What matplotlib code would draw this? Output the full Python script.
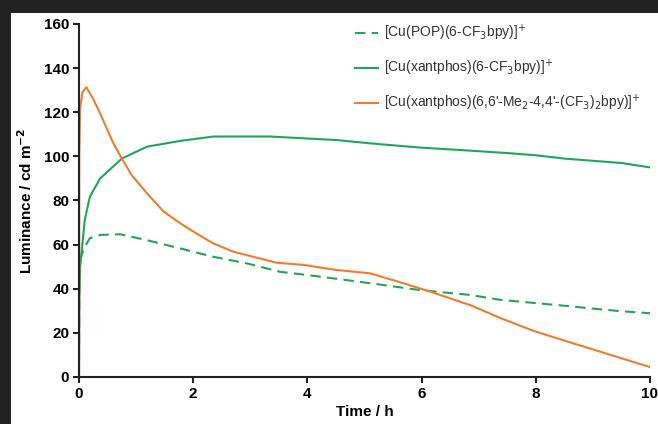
import matplotlib
matplotlib.use("Agg")
import matplotlib.pyplot as plt
from matplotlib.patches import Rectangle

plt.rcParams['font.family'] = ['Liberation Sans', 'DejaVu Sans']

# Data
t_pop = [0, 0.005, 0.02, 0.08, 0.19, 0.37, 0.72, 1.19, 1.77, 2.35, 2.94, 3.52, 4.22, 5.1, 5.97, 6.85, 7.37, 8.0, 8.5, 9.0, 9.5, 10.0]
y_pop = [0, 40, 53, 58, 62.9, 64.4, 64.7, 62, 58.3, 54.5, 51.5, 47.7, 45.5, 42.5, 39.4, 37.2, 35, 33.5, 32.3, 31, 29.8, 28.9]

t_xan = [0, 0.005, 0.02, 0.1, 0.19, 0.37, 0.75, 1.19, 1.77, 2.35, 2.9, 3.34, 3.93, 4.51, 5.1, 5.97, 6.85, 7.5, 8.0, 8.5, 9.0, 9.5, 10.0]
y_xan = [0, 35, 50, 71, 81.7, 90, 99, 104.4, 107, 109, 109, 109, 108.2, 107.4, 105.9, 104, 102.6, 101.5, 100.5, 99, 98, 97, 95]

t_me = [0, 0.005, 0.02, 0.06, 0.13, 0.25, 0.37, 0.6, 0.75, 0.92, 1.19, 1.48, 1.77, 2.06, 2.35, 2.7, 3.05, 3.46, 3.93, 4.51, 5.1, 5.68, 6.15, 6.85, 7.4, 7.95, 8.5, 9.0, 9.5, 10.0]
y_me = [0, 100, 122, 129, 131.3, 126, 119.5, 106, 99, 91.6, 83.3, 75, 69.7, 65, 60.6, 56.8, 54.5, 51.8, 50.8, 48.5, 47, 42.5, 38.7, 32.6, 26.5, 21, 16.5, 12.5, 8.5, 4.5]

labels = [r'[Cu(POP)(6-CF$_3$bpy)]$^{+}$',
          r'[Cu(xantphos)(6-CF$_3$bpy)]$^{+}$',
          r"[Cu(xantphos)(6,6'-Me$_2$-4,4'-(CF$_3$)$_2$bpy)]$^{+}$"]

green = '#22a55a'
orange = '#ee7d31'

fig = plt.figure(figsize=(6.58, 4.24), dpi=100, facecolor='white')
# dark border on top and left
fig.patches.append(Rectangle((0, 1 - 13/424), 1, 13/424, transform=fig.transFigure,
                             facecolor='#222222', edgecolor='none', zorder=-10))
fig.patches.append(Rectangle((0, 0), 11/658, 1, transform=fig.transFigure,
                             facecolor='#222222', edgecolor='none', zorder=-10))
ax = fig.add_axes([79/658, 47/424, (650-79)/658, (377-24)/424])
ax.set_facecolor('white')

ax.plot(t_pop, y_pop, color=green, lw=1.5, ls=(0, (5, 3)), label=labels[0])
ax.plot(t_xan, y_xan, color=green, lw=1.5, label=labels[1])
ax.plot(t_me, y_me, color=orange, lw=1.5, label=labels[2])

ax.set_xlim(0, 10)
ax.set_ylim(0, 160)
ax.set_xticks([0, 2, 4, 6, 8, 10])
ax.set_yticks(range(0, 161, 20))
for s in ['top', 'right']:
    ax.spines[s].set_visible(False)
for s in ['left', 'bottom']:
    ax.spines[s].set_linewidth(1.5)
    ax.spines[s].set_color('#222222')
ax.tick_params(direction='out', length=4, width=1.5, color='#222222', labelsize=11, pad=3)
for lab in ax.get_xticklabels() + ax.get_yticklabels():
    lab.set_fontweight('bold')
ax.set_xlabel('Time / h', fontsize=11, fontweight='bold', labelpad=3)
ax.set_ylabel(r'Luminance / cd m$^{\mathbf{-2}}$', fontsize=11, fontweight='bold', labelpad=6)

leg = ax.legend(loc='upper left', bbox_to_anchor=(0.462, 1.038), frameon=False, fontsize=10,
                handlelength=1.6, handletextpad=0.45, labelspacing=1.05, labelcolor='#333333')

fig.savefig('out.png', dpi=100, facecolor=fig.get_facecolor())
